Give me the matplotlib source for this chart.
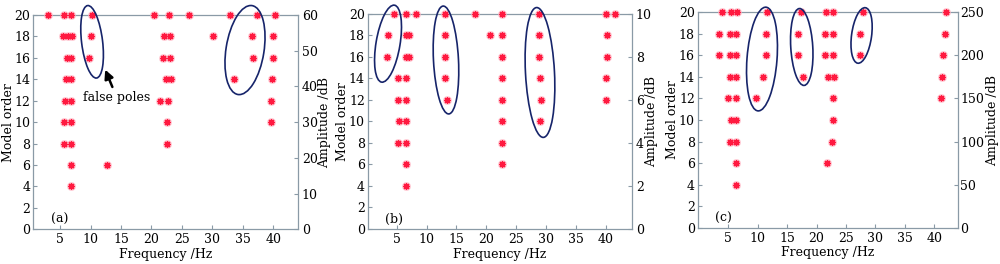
import numpy as np
import matplotlib
matplotlib.use('Agg')
import matplotlib.pyplot as plt
from matplotlib.patches import Ellipse
from matplotlib.transforms import ScaledTranslation

plt.rcParams['font.family'] = ['DejaVu Serif']
plt.rcParams['font.size'] = 9

# model orders (rows of the stabilization diagram)
orders = [20, 18, 16, 14, 12, 10, 8, 6, 4]

# identified pole frequencies (Hz) per model order, one list per panel
freqs_a = [
    [2.98, 5.66, 6.86, 10.3, 20.45, 22.8, 26.2, 32.9, 37.4, 40.3],
    [5.55, 6.26, 6.9, 10.1, 22.06, 23.1, 30.05, 36.55, 40.0],
    [6.05, 6.8, 9.7, 21.95, 23.1, 36.7, 40.0],
    [6.0, 6.75, 22.4, 23.16, 33.6, 39.7],
    [5.77, 6.86, 21.4, 22.67, 39.6],
    [5.7, 6.86, 22.5, 39.6],
    [5.7, 6.86, 22.5],
    [6.86, 12.76],
    [6.86],
]
freqs_b = [
    [4.55, 6.56, 8.23, 13.03, 18.04, 22.66, 28.8, 40.0, 41.45],
    [3.6, 6.56, 7.1, 13.03, 20.6, 22.66, 28.85, 40.2],
    [3.3, 6.56, 7.06, 13.03, 22.66, 28.85, 40.2],
    [5.28, 6.56, 13.1, 22.66, 28.97, 40.0],
    [5.27, 6.56, 13.36, 22.66, 29.08, 40.0],
    [5.4, 6.56, 22.66, 28.97],
    [5.28, 6.56, 22.66],
    [6.56, 22.55],
    [6.56],
]
freqs_c = [
    [3.98, 5.41, 6.43, 11.64, 17.37, 21.67, 22.76, 27.97, 42.0],
    [3.47, 5.29, 6.31, 11.41, 16.9, 21.45, 22.76, 27.4, 41.87],
    [3.47, 5.29, 6.31, 11.41, 16.9, 21.45, 22.76, 27.4, 41.58],
    [5.29, 6.31, 10.96, 17.76, 22.0, 23.04, 41.4],
    [5.0, 6.31, 9.71, 22.87, 41.2],
    [5.4, 6.31, 22.75],
    [5.28, 6.31, 22.6],
    [6.31, 21.85],
    [6.31],
]

panel_labels = ['(a)', '(b)', '(c)']
amp_max = [60, 10, 250]
amp_step = [10, 2, 50]
xlims = [(0.6, 44.0), (0.15, 44.3), (-0.2, 44.0)]

# ellipses: centre (Hz, order), width/height in pixels, tilt in degrees
ellipses = [
    [(10.25, 17.5, 21, 73, 7), (35.35, 16.73, 38, 90, -9)],
    [(3.55, 17.24, 24, 78, -9.5), (13.24, 15.72, 25, 108, 3), (28.96, 14.56, 29, 130, 3)],
    [(10.73, 15.66, 30, 104, -4.4), (17.49, 16.78, 22, 77, 3.5), (27.66, 17.85, 20, 56, -7.8)],
]

rects = [
    [0.0333, 0.1314, 0.2644, 0.8117],
    [0.3677, 0.1326, 0.2640, 0.8144],
    [0.6977, 0.1375, 0.2600, 0.8159],
]
# label x positions in axes fraction (left "Model order", right "Amplitude")
left_lab_x = [-0.092, -0.094, -0.095]
right_lab_x = [1.103, 1.077, 1.133]
right_pad = [3, 3, 2]

spine_col = '#8a9aa6'
ell_col = '#16246a'

fig = plt.figure(figsize=(10, 2.64), dpi=100)

for k, freqs in enumerate([freqs_a, freqs_b, freqs_c]):
    ax = fig.add_axes(rects[k])
    xs = np.concatenate([np.array(f, dtype=float) for f in freqs])
    ys = np.concatenate([np.full(len(f), o) for f, o in zip(freqs, orders)])
    # pink glow + red asterisk
    ax.plot(xs, ys, 'o', ms=6.5, color='#ffb3c1', alpha=0.65, mec='none', clip_on=False, zorder=4)
    ax.plot(xs, ys, ls='none', marker=(8, 2, 0), ms=5, mew=0.9, color='#ff1a40',
            clip_on=False, zorder=5)

    ax.set_xlim(*xlims[k])
    ax.set_ylim(0, 20)
    ax.set_xticks(np.arange(5, 45, 5))
    ax.set_yticks(np.arange(0, 21, 2))
    ax.tick_params(direction='in', length=3, width=0.8, color=spine_col, pad=2)
    ax.tick_params(axis='x', pad=3)
    for s in ax.spines.values():
        s.set_color(spine_col)
        s.set_linewidth(0.9)
    ax.set_xlabel('Frequency /Hz', labelpad=1)
    ax.set_ylabel('Model order', va='center')
    ax.yaxis.set_label_coords(left_lab_x[k], 0.5)
    ax.text(0.10, 0.045, panel_labels[k], transform=ax.transAxes, ha='center', va='center')

    ax2 = ax.twinx()
    ax2.set_ylim(0, amp_max[k])
    ax2.set_yticks(np.arange(0, amp_max[k] + 1, amp_step[k]))
    ax2.tick_params(direction='in', length=3, width=0.8, color=spine_col, pad=right_pad[k])
    for s in ax2.spines.values():
        s.set_visible(False)
    ax2.set_ylabel('Amplitude /dB', va='center')
    ax2.yaxis.set_label_coords(right_lab_x[k], 0.5)

    for cx, cy, w, h, ang in ellipses[k]:
        tr = fig.dpi_scale_trans + ScaledTranslation(cx, cy, ax.transData)
        e = Ellipse((0, 0), w / 100, h / 100, angle=ang, fill=False,
                    edgecolor=ell_col, lw=1.2, transform=tr, clip_on=False, zorder=6)
        ax.add_patch(e)

    if k == 0:
        ax.annotate('false poles', xy=(12.4, 14.9), xytext=(14.3, 12.3),
                    ha='center', va='center',
                    arrowprops=dict(arrowstyle='-|>', color='k', lw=1.8,
                                    mutation_scale=13, shrinkA=1, shrinkB=0))

fig.savefig('out.png', dpi=100)
